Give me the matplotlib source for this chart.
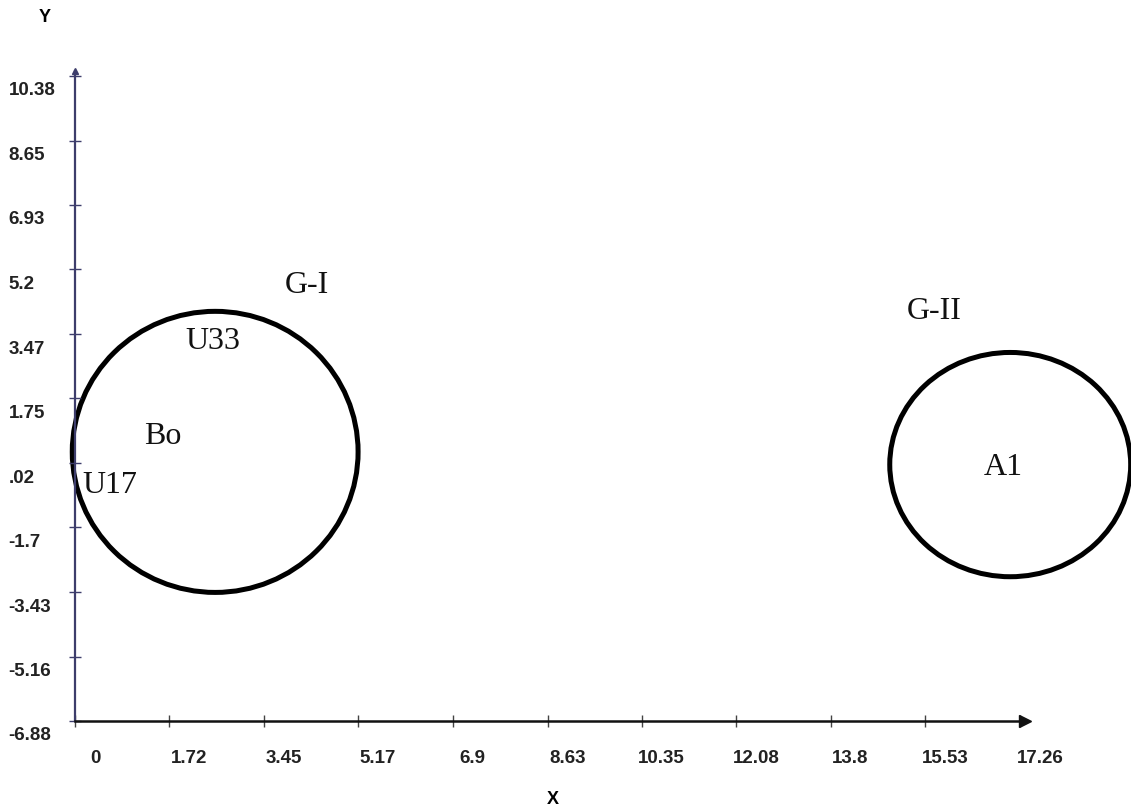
import matplotlib.pyplot as plt
from matplotlib.patches import Ellipse
import matplotlib.transforms as mtransforms

# tick values shown on the axes
x_ticks = [0, 1.72, 3.45, 5.17, 6.9, 8.63, 10.35, 12.08, 13.8, 15.53, 17.26]
x_tick_labels = ["0", "1.72", "3.45", "5.17", "6.9", "8.63", "10.35", "12.08", "13.8", "15.53", "17.26"]
y_ticks = [-6.88, -5.16, -3.43, -1.7, 0.02, 1.75, 3.47, 5.2, 6.93, 8.65, 10.38]
y_tick_labels = ["-6.88", "-5.16", "-3.43", "-1.7", ".02", "1.75", "3.47", "5.2", "6.93", "8.65", "10.38"]

# cluster boundaries: centre x, centre y, width (x units), height (y units)
group_names = ["G-I", "G-II"]
group_cx = [2.56, 17.08]
group_cy = [0.32, -0.02]
group_w = [5.22, 4.40]
group_h = [7.52, 6.00]

# group titles
group_label_x = [4.24, 15.70]
group_label_y = [4.81, 4.09]

# members inside the clusters
member_names = ["U33", "Bo", "U17", "A1"]
member_x = [2.52, 1.61, 0.64, 16.95]
member_y = [3.29, 0.75, -0.56, -0.06]

sans = ["Liberation Sans", "DejaVu Sans"]
serif = ["Liberation Serif", "DejaVu Serif"]

fig = plt.figure(figsize=(11.31, 8.12), dpi=100)
ax = fig.add_axes([75 / 1131, 90 / 812, 950 / 1131, 650 / 812])

ax.set_xlim(0, 17.35)
ax.set_ylim(-6.88, 10.51)

for side in ["top", "right"]:
    ax.spines[side].set_visible(False)
ax.spines["left"].set_color("#3d3d6b")
ax.spines["left"].set_linewidth(1.6)
ax.spines["bottom"].set_color("#111111")
ax.spines["bottom"].set_linewidth(1.8)

# arrow heads at the end of the axes
ax.plot(1, 0, ">", color="#111111", markersize=8, transform=ax.transAxes, clip_on=False)
ax.plot(0, 1, "^", color="#3d3d6b", markersize=5, transform=ax.transAxes, clip_on=False)

ax.set_xticks(x_ticks)
ax.set_xticklabels(x_tick_labels, fontsize=13.5, fontweight="bold", color="#222222")
ax.set_yticks(y_ticks)
ax.set_yticklabels(y_tick_labels, fontsize=13.5, fontweight="bold", color="#222222",
                   ha="left")
ax.tick_params(axis="x", direction="inout", length=8, width=1, color="#444444", pad=16)
ax.tick_params(axis="y", direction="inout", length=8, width=1, color="#3d3d6b", pad=61 * 0.72)

# shift labels like in the original (right of / below the tick)
dx = mtransforms.ScaledTranslation(20 / 100, 0, fig.dpi_scale_trans)
for lab in ax.get_xticklabels():
    lab.set_transform(lab.get_transform() + dx)
    lab.set_family(sans)
dy = mtransforms.ScaledTranslation(0, -12 / 100, fig.dpi_scale_trans)
for lab in ax.get_yticklabels():
    lab.set_transform(lab.get_transform() + dy)
    lab.set_family(sans)

for cx, cy, w, h in zip(group_cx, group_cy, group_w, group_h):
    ax.add_patch(Ellipse((cx, cy), w, h, fill=False, edgecolor="black",
                         linewidth=3.6, clip_on=False))

for name, x, y in zip(group_names, group_label_x, group_label_y):
    ax.text(x, y, name, fontsize=23, family=serif, ha="center", va="center", color="#111111")
for name, x, y in zip(member_names, member_x, member_y):
    ax.text(x, y, name, fontsize=23, family=serif, ha="center", va="center", color="#111111")

fig.text(45 / 1131, 1 - 17 / 812, "Y", fontsize=13, fontweight="bold",
         family=sans, ha="center", va="center")
fig.text(553 / 1131, 1 - 800 / 812, "X", fontsize=13, fontweight="bold",
         family=sans, ha="center", va="center")

fig.savefig("out.png", dpi=100)
